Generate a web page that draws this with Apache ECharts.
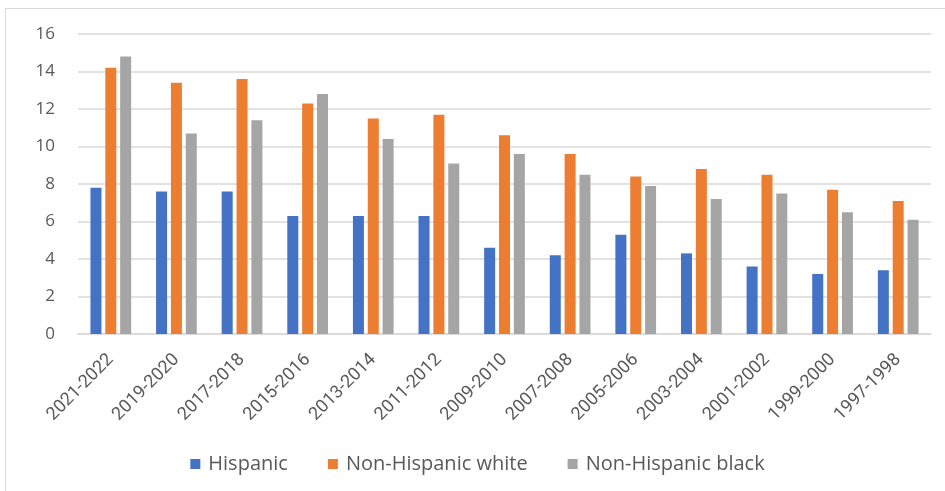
<!DOCTYPE html>
<html>
<head>
<meta charset="utf-8">
<script src="https://cdn.jsdelivr.net/npm/echarts@6/dist/echarts.min.js"></script>
<style>
  html, body { margin: 0; padding: 0; background: #fff; }
  #chart { position: absolute; left: 5px; top: 8px; width: 945px; height: 491px; border: 1px solid #d9d9d9; box-sizing: border-box; }
</style>
</head>
<body>
<div id="chart"></div>
<script>
// survey periods, newest first
const categories = ['2021-2022', '2019-2020', '2017-2018', '2015-2016', '2013-2014', '2011-2012',
  '2009-2010', '2007-2008', '2005-2006', '2003-2004', '2001-2002', '1999-2000', '1997-1998']
const hispanic = [7.8, 7.6, 7.6, 6.3, 6.3, 6.3, 4.6, 4.2, 5.3, 4.3, 3.6, 3.2, 3.4]
const nhWhite = [14.2, 13.4, 13.6, 12.3, 11.5, 11.7, 10.6, 9.6, 8.4, 8.8, 8.5, 7.7, 7.1]
const nhBlack = [14.8, 10.7, 11.4, 12.8, 10.4, 9.1, 9.6, 8.5, 7.9, 7.2, 7.5, 6.5, 6.1]
const yTicks = [0, 2, 4, 6, 8, 10, 12, 14, 16]

const chart = echarts.init(document.getElementById('chart'))
const bar = (name, data, color) => ({
  name,
  type: 'bar',
  data,
  barWidth: 11,
  barGap: '35%',
  itemStyle: { color },
  emphasis: { disabled: true }
})
chart.setOption({
  animation: false,
  textStyle: { fontFamily: 'Open Sans' },
  grid: { left: 72, right: 18, top: 25, bottom: 164 },
  legend: {
    bottom: 19,
    left: 'center',
    itemWidth: 10,
    itemHeight: 10,
    itemGap: 40,
    icon: 'rect',
    textStyle: { color: '#595959', fontSize: 20, fontFamily: 'Open Sans', padding: [0, 0, 0, 3] },
    data: ['Hispanic', 'Non-Hispanic white', 'Non-Hispanic black']
  },
  xAxis: {
    type: 'category',
    data: categories,
    axisTick: { show: false },
    axisLine: { lineStyle: { color: '#d9d9d9', width: 1.5 } },
    axisLabel: { rotate: 45, color: '#595959', fontSize: 18, fontFamily: 'Roboto', margin: 23, interval: 0 }
  },
  yAxis: {
    type: 'value',
    min: yTicks[0],
    max: yTicks[yTicks.length - 1],
    interval: 2,
    axisLine: { show: false },
    axisTick: { show: false },
    splitLine: { lineStyle: { color: '#d9d9d9', width: 1.5 } },
    axisLabel: { color: '#595959', fontSize: 17, margin: 23 }
  },
  series: [
    bar('Hispanic', hispanic, '#4472c4'),
    bar('Non-Hispanic white', nhWhite, '#ed7d31'),
    bar('Non-Hispanic black', nhBlack, '#a5a5a5')
  ]
})
</script>
</body>
</html>
